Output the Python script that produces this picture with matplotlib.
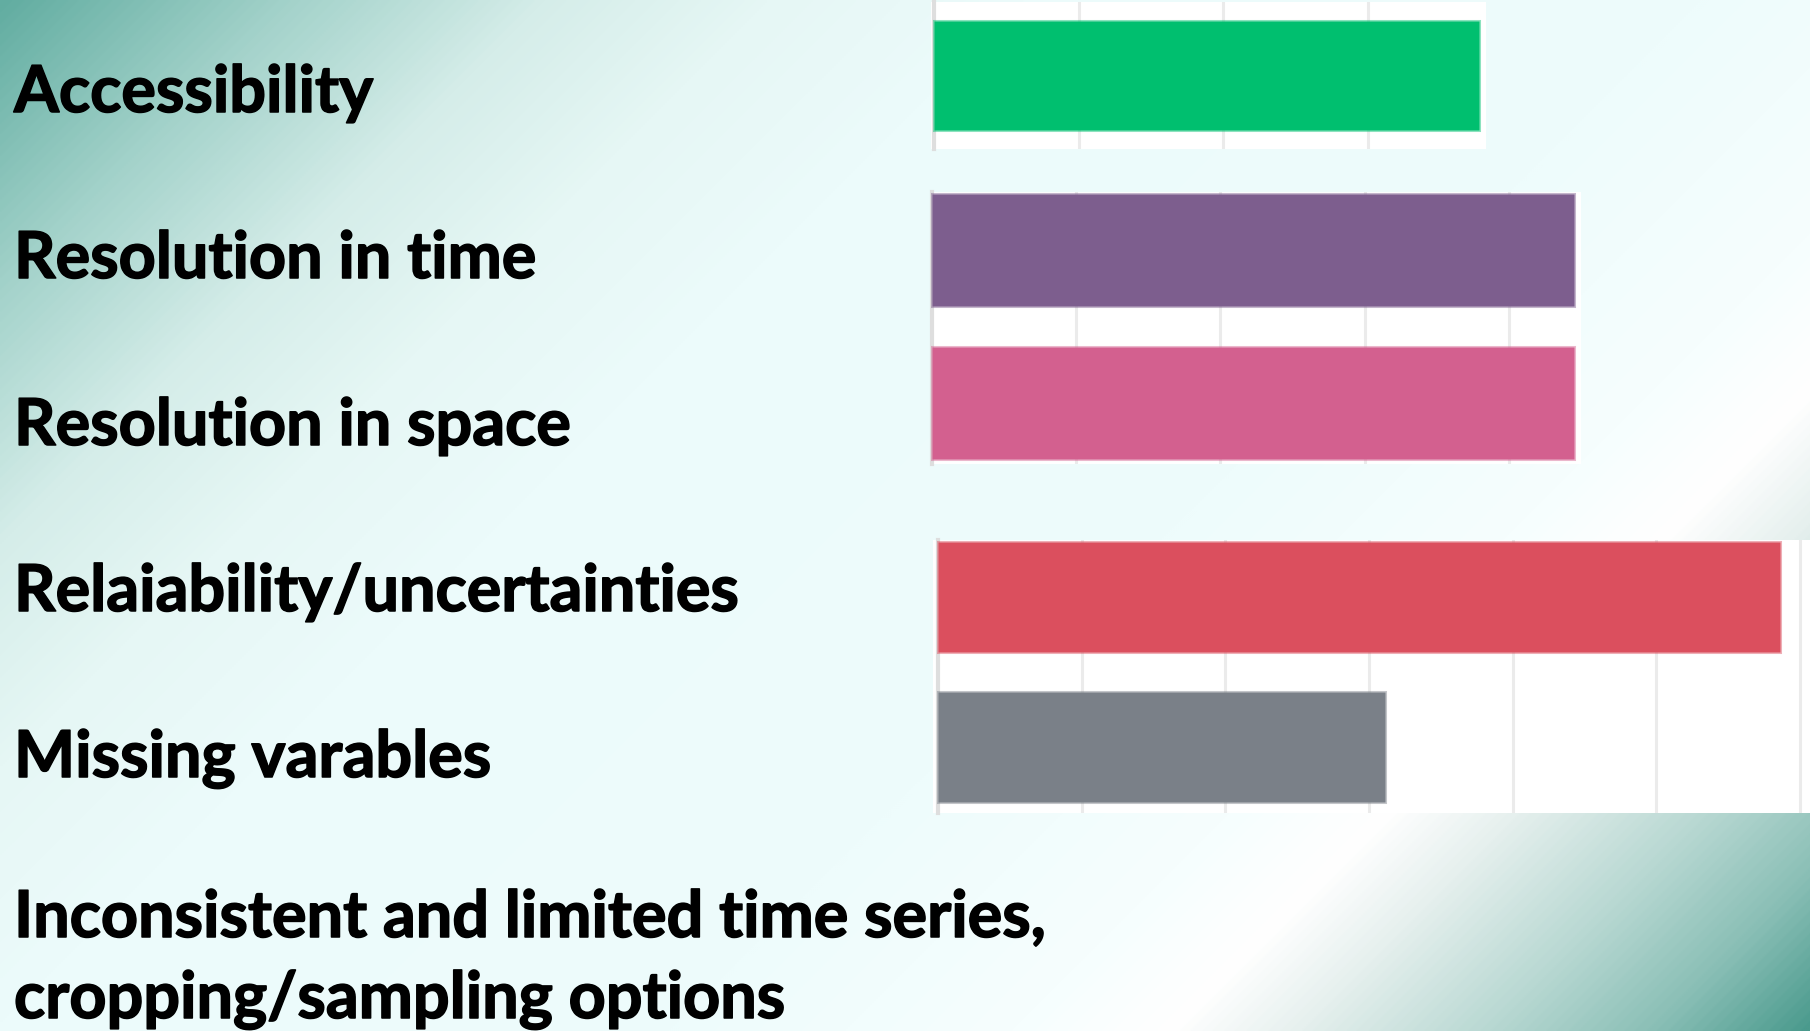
import numpy as np
import matplotlib
matplotlib.use("Agg")
import matplotlib.pyplot as plt
import matplotlib.patheffects as pe
from matplotlib.colors import LinearSegmentedColormap, to_rgba

# ---------------- data ----------------
categories = ["Accessibility", "Resolution in time", "Resolution in space",
              "Relaiability/uncertainties", "Missing varables"]
values = [3.77, 4.45, 4.45, 5.86, 3.11]
bar_colors = ["#00bf6f", "#7d5e8e", "#d3608f", "#db4f5e", "#7a8088"]
panel_groups = [[0], [1, 2], [3, 4]]
extra_label = "Inconsistent and limited time series,\ncropping/sampling options"

# ---------------- layout ----------------
W, H = 1810, 1031
fig = plt.figure(figsize=(W / 100, H / 100), dpi=100)

# background gradient
bg = fig.add_axes([0, 0, 1, 1])
bg.set_axis_off()
yy, xx = np.mgrid[0:H:2, 0:W:2]
t = (xx + yy) / (W + H)
cmap = LinearSegmentedColormap.from_list("bg", [
    (0.00, "#62ada1"), (0.10, "#a3d2ca"), (0.19, "#d5ede9"), (0.27, "#e6f7f5"),
    (0.36, "#ecfbfb"), (0.60, "#eefcfc"), (0.72, "#f6fefe"), (0.775, "#ffffff"),
    (0.82, "#e6f0ee"), (0.89, "#b6d7d1"), (0.945, "#8abfb6"), (1.00, "#4a9a8d")])
bg.imshow(t, cmap=cmap, vmin=0, vmax=1, extent=[0, W, H, 0], aspect="auto",
          interpolation="bilinear")
bg.set_xlim(0, W)
bg.set_ylim(H, 0)

# panel rectangles in pixels (x0, x1, ytop, ybottom), xlim, ylim, bar height
panel_layout = [
    ((931, 1486, 2, 149), (-0.024, 3.817), (0.5, -0.5), 0.748),
    ((931, 1581, 192, 464), (-0.007, 4.50), (1.397, -0.375), 0.73),
    ((933, 1810, 540, 813), (-0.035, 6.07), (1.443, -0.377), 0.733),
]

for group, (rect, xl, yl, bh) in zip(panel_groups, panel_layout):
    x0, x1, y0, y1 = rect
    ax = fig.add_axes([x0 / W, 1 - y1 / H, (x1 - x0) / W, (y1 - y0) / H])
    ax.set_facecolor("white")
    for pos, i in enumerate(group):
        ax.barh(pos, values[i], height=bh, color=bar_colors[i],
                edgecolor=to_rgba(bar_colors[i], 0.45), linewidth=2.2, zorder=3)
    ax.set_xlim(*xl)
    ax.set_ylim(*yl)
    ax.set_xticks(np.arange(1, int(xl[1]) + 1))
    ax.set_yticks([])
    ax.grid(axis="x", color="#ebebeb", linewidth=2.2)
    ax.set_axisbelow(True)
    ax.tick_params(length=0, labelbottom=False, labelleft=False)
    for s in ["top", "right", "bottom"]:
        ax.spines[s].set_visible(False)
    ax.spines["left"].set_position(("data", 0))
    ax.spines["left"].set_color("#dedede")
    ax.spines["left"].set_linewidth(3)
    ax.spines["left"].set_zorder(2)

# ---------------- text labels ----------------
font = dict(family=["Lato", "DejaVu Sans"], weight="bold", color="black")
all_lines = categories + extra_label.split("\n")
baselines = [112, 278, 445, 611, 777, 937, 1018]

# fit font size so that the longest line has the reference width
renderer = fig.canvas.get_renderer()
probe = fig.text(0, 0, extra_label.split("\n")[0], fontsize=50, **font)
wpx = probe.get_window_extent(renderer).width
probe.remove()
fs = 50 * 1034 / wpx

thick = [pe.withStroke(linewidth=1.1, foreground="black")]
for line, yb in zip(all_lines, baselines):
    fig.text(14 / W, 1 - yb / H, line, fontsize=fs, ha="left", va="baseline",
             path_effects=thick, **font)

fig.savefig("out.png", dpi=100)
